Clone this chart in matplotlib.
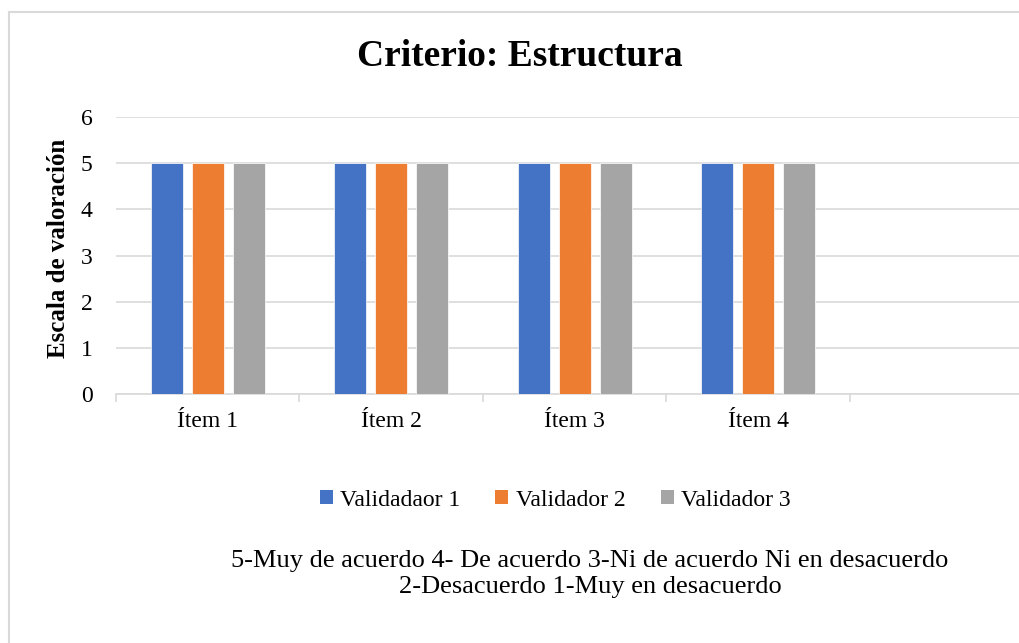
import matplotlib.pyplot as plt
from matplotlib.lines import Line2D
from matplotlib.patches import Patch
import numpy as np

plt.rcParams['font.family'] = ['Liberation Serif', 'DejaVu Serif']

categorias = ['Ítem 1', 'Ítem 2', 'Ítem 3', 'Ítem 4', '']
series = ['Validadaor 1', 'Validador 2', 'Validador 3']
validador1 = [5, 5, 5, 5, 0]
validador2 = [5, 5, 5, 5, 0]
validador3 = [5, 5, 5, 5, 0]
colores = ['#4472C4', '#ED7D31', '#A5A5A5']
nota = '5-Muy de acuerdo 4- De acuerdo 3-Ni de acuerdo Ni en desacuerdo\n2-Desacuerdo 1-Muy en desacuerdo'

W, H = 1020, 643
fig = plt.figure(figsize=(W / 100, H / 100), dpi=100)
ax = fig.add_axes([116 / W, 1 - 394 / H, (1033.5 - 116) / W, (394 - 117) / H])

x = np.arange(len(categorias))
ancho = 0.174
paso = 0.2235
for i, (vals, c, lab) in enumerate(zip([validador1, validador2, validador3], colores, series)):
    ax.bar(x + (i - 1) * paso, vals, ancho, color=c, edgecolor='white', linewidth=0.5, label=lab, zorder=3)

ax.set_xlim(-0.5, len(categorias) - 0.5)
ax.set_ylim(0, 6)
ax.set_yticks(range(0, 7))
ax.tick_params(axis='y', length=0, labelsize=17, pad=17)
ax.set_xticks(x)
ax.set_xticklabels(categorias)
ax.tick_params(axis='x', which='major', length=0, labelsize=17, pad=12)
ax.set_xticks(np.arange(-0.5, len(categorias), 1), minor=True)
ax.tick_params(axis='x', which='minor', length=6, color='#D9D9D9', width=1.2)
ax.grid(axis='y', color='#D9D9D9', linewidth=1.2, zorder=0)
for s in ['top', 'right', 'left']:
    ax.spines[s].set_visible(False)
ax.spines['bottom'].set_color('#D9D9D9')
ax.spines['bottom'].set_linewidth(1.2)

ax.set_ylabel('Escala de valoración', fontsize=18, fontweight='bold')
ax.yaxis.set_label_coords(-46 / 917.5, (394 - 248) / 277)
fig.text(520 / W, 1 - 56 / H, 'Criterio: Estructura', ha='center', va='center',
         fontsize=27, fontweight='bold')

handles = [Patch(facecolor=c, edgecolor='none') for c in colores]
fig.legend(handles, series, loc='center', bbox_to_anchor=(555 / W, 1 - 500 / H), ncol=3,
           frameon=False, fontsize=17, handlelength=0.55, handleheight=0.55,
           handletextpad=0.3, columnspacing=1.5)

fig.text(590 / W, 1 - 574 / H, nota, ha='center', va='center', fontsize=19, linespacing=1.2)

# borde del grafico
fig.add_artist(Line2D([9.5 / W, 9.5 / W], [0, 1 - 12 / H], color='#D9D9D9', linewidth=1.5,
                      transform=fig.transFigure))
fig.add_artist(Line2D([9.5 / W, 1], [1 - 12 / H, 1 - 12 / H], color='#D9D9D9', linewidth=1.5,
                      transform=fig.transFigure))

fig.savefig('out.png', dpi=100)
